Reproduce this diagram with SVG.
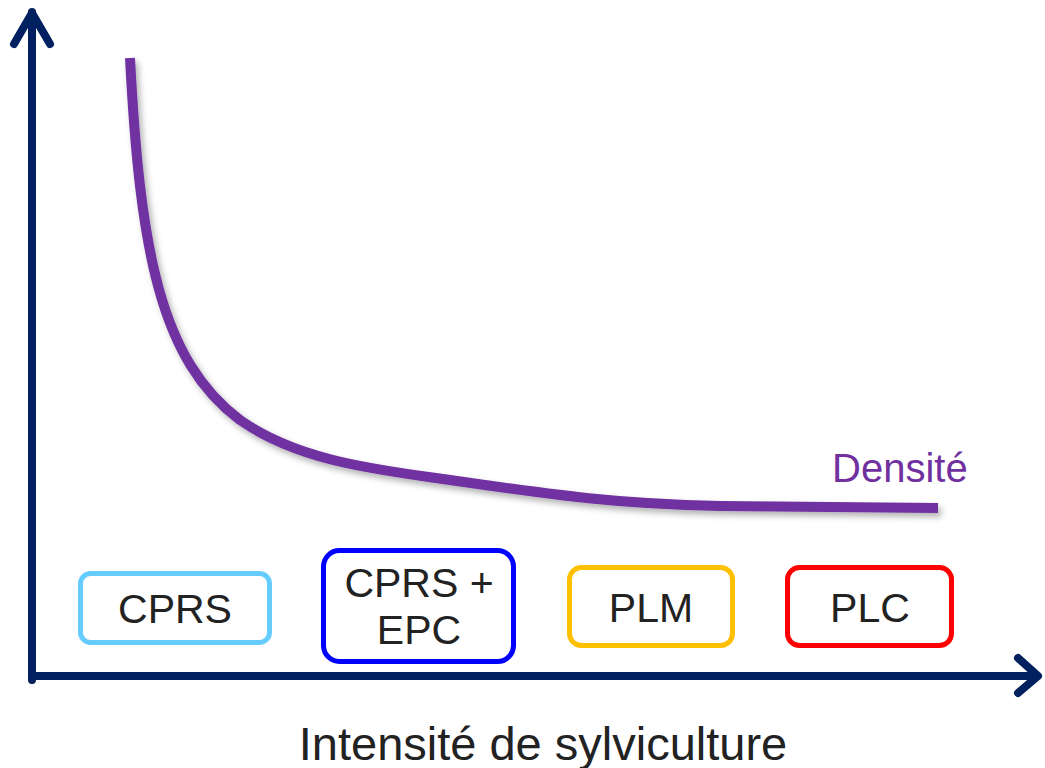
<svg xmlns="http://www.w3.org/2000/svg" width="1045" height="768" viewBox="0 0 1045 768">
<defs>
<style>
.box{fill:#fff;stroke-width:5}
.lbl{font-family:"Liberation Sans",Arial,sans-serif;font-size:41px;fill:#222;text-anchor:middle}
.axis{fill:none;stroke:#002060;stroke-width:8;stroke-linecap:round;stroke-linejoin:round}
</style>
<filter id="sh" x="-10%" y="-10%" width="130%" height="130%">
<feDropShadow dx="3" dy="4" stdDeviation="3" flood-color="#000" flood-opacity="0.3"/>
</filter>
</defs>
<rect width="1045" height="768" fill="#fff"/>
<g id="connectors">
<g id="axes">
<path class="axis" d="M32,680 V12" stroke-linecap="butt"/>
<path class="axis" d="M14,44 L32,13 L50,44"/>
<path class="axis" d="M32,676 H1036"/>
<path class="axis" d="M1018,658 L1038,676 L1018,693"/>
</g>
<path id="curve" d="M130,58 C140,250 160,360 240,420 C300,462 380,470 450,480 C560,496 620,504 720,506 L938,508" fill="none" stroke="#7030A0" stroke-width="10" filter="url(#sh)"/>
</g>
<g id="densite"><text x="832" y="482" font-family="Liberation Sans,Arial,sans-serif" font-size="40" fill="#7030A0">Densité</text></g>
<g id="node-cprs">
<rect class="box" x="80.5" y="573.5" width="189" height="69" rx="10" stroke="#66CCFF"/>
<text class="lbl" x="175" y="623">CPRS</text>
</g>
<g id="node-cprs-epc">
<rect class="box" x="323.5" y="550.5" width="190" height="111" rx="16" stroke="#0000FF"/>
<text class="lbl" x="419" y="597" font-size="42">CPRS +</text>
<text class="lbl" x="419" y="644" font-size="42">EPC</text>
</g>
<g id="node-plm">
<rect class="box" x="569.5" y="567.5" width="163" height="78" rx="12" stroke="#FFC000"/>
<text class="lbl" x="651" y="622">PLM</text>
</g>
<g id="node-plc">
<rect class="box" x="787.5" y="567.5" width="164" height="78" rx="12" stroke="#FF0000"/>
<text class="lbl" x="870" y="622">PLC</text>
</g>
<g id="xlabel"><text x="543" y="760" font-family="Liberation Sans,Arial,sans-serif" font-size="47" fill="#222" text-anchor="middle">Intensité de sylviculture</text></g>
</svg>
